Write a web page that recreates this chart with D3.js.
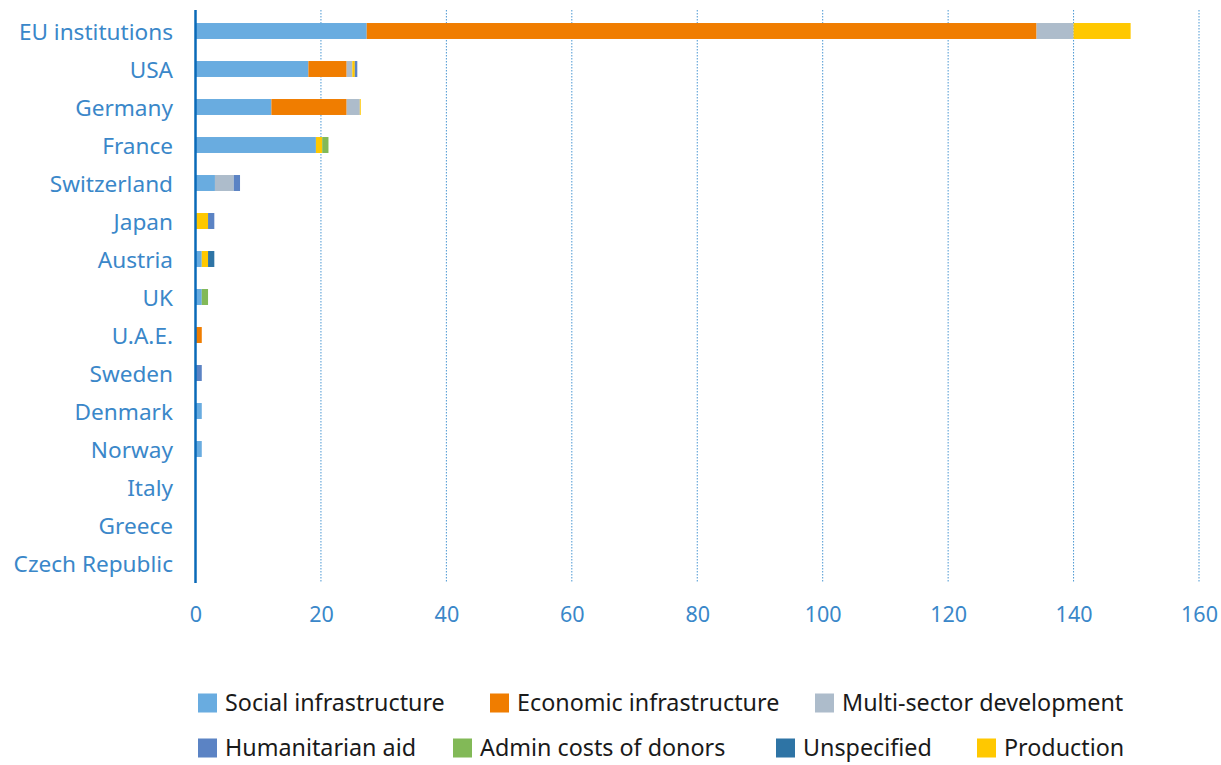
<!DOCTYPE html>
<html><head><meta charset="utf-8">
<script src="https://cdn.jsdelivr.net/npm/d3@7"></script>
<style>body{margin:0;background:#fff}svg{display:block}</style>
</head><body>
<svg id="chart" width="1221" height="765"></svg>
<script>
const categories = ["EU institutions","USA","Germany","France","Switzerland","Japan","Austria","UK","U.A.E.","Sweden","Denmark","Norway","Italy","Greece","Czech Republic"];
const seriesNames = ["Social infrastructure","Economic infrastructure","Multi-sector development","Humanitarian aid","Admin costs of donors","Unspecified","Production"];
const seriesColors = ["#69ace0","#f07d00","#adbccb","#5b83c4","#82b957","#2e74a5","#ffc800"];
const stackOrder = ["Social infrastructure","Economic infrastructure","Multi-sector development","Production","Humanitarian aid","Admin costs of donors","Unspecified"];
const social        = [27.3, 18.0, 12.1, 19.2, 3.1, 0,   1.0, 1.0, 0,   0,   1.0, 1.0, 0, 0, 0];
const economic      = [106.8, 6.1, 12.0, 0,   0,   0,   0,   0,   1.0, 0,   0,   0,   0, 0, 0];
const multisector   = [5.9,  0.9,  2.1,  0,   3.0, 0,   0,   0,   0,   0,   0,   0,   0, 0, 0];
const humanitarian  = [0,    0.4,  0,    0,   1.0, 1.0, 0,   0,   0,   1.0, 0,   0,   0, 0, 0];
const admin         = [0,    0,    0,    1.0, 0,   0,   0,   1.0, 0,   0,   0,   0,   0, 0, 0];
const unspecified   = [0,    0,    0,    0,   0,   0,   1.0, 0,   0,   0,   0,   0,   0, 0, 0];
const production    = [9.1,  0.4,  0.15, 1.0, 0,   2.0, 1.0, 0,   0,   0,   0,   0,   0, 0, 0];
const xTicks = [0,20,40,60,80,100,120,140,160];

const valuesByName = {
  "Social infrastructure": social,
  "Economic infrastructure": economic,
  "Multi-sector development": multisector,
  "Humanitarian aid": humanitarian,
  "Admin costs of donors": admin,
  "Unspecified": unspecified,
  "Production": production
};
const rows = categories.map((c,i)=>{
  const r = {cat:c};
  seriesNames.forEach(s=>r[s]=valuesByName[s][i]);
  return r;
});
const color = d3.scaleOrdinal(seriesNames, seriesColors);

const svg = d3.select("#chart");
const font = "'Noto Sans', 'Open Sans', sans-serif";
const x = d3.scaleLinear().domain([0,160]).range([195.5,1199]);
const y = d3.scaleBand().domain(categories).range([12,582]).paddingInner(0.58).paddingOuter(0.29);

// gridlines
svg.append("g").selectAll("line").data(xTicks.filter(t=>t>0)).join("line")
  .attr("x1",d=>x(d)).attr("x2",d=>x(d)).attr("y1",10).attr("y2",583)
  .attr("stroke","#4a97d2").attr("stroke-width",1).attr("stroke-dasharray","1.5,1.5");

const stack = d3.stack().keys(stackOrder)(rows);
svg.append("g").selectAll("g").data(stack).join("g")
  .attr("fill",d=>color(d.key))
  .selectAll("rect").data(d=>d).join("rect")
  .attr("x",d=>x(d[0])).attr("width",d=>Math.max(0,x(d[1])-x(d[0])))
  .attr("y",d=>y(d.data.cat)).attr("height",y.bandwidth());

// axis line
svg.append("line").attr("x1",195.5).attr("x2",195.5).attr("y1",10).attr("y2",583)
  .attr("stroke","#0a6ab8").attr("stroke-width",2.5);

// y labels
const yAxis = d3.axisLeft(y).tickSize(0).tickPadding(22);
const ya = svg.append("g").attr("transform","translate(195,0)").call(yAxis);
ya.select(".domain").remove();
ya.selectAll("text").attr("font-family",font).attr("font-size",22.6).attr("fill","#3a87c9").attr("dy","0.4em");

// x labels
const xAxis = d3.axisBottom(x).tickValues(xTicks).tickSize(0).tickPadding(0);
const xa = svg.append("g").attr("transform","translate(0,607)").call(xAxis);
xa.select(".domain").remove();
xa.selectAll("text").attr("font-family",font).attr("font-size",21.5).attr("fill","#3a87c9");

// legend
const legendItems = [
  {name:"Social infrastructure", x:198, y:703},
  {name:"Economic infrastructure", x:490, y:703},
  {name:"Multi-sector development", x:815, y:703},
  {name:"Humanitarian aid", x:198, y:748},
  {name:"Admin costs of donors", x:453, y:748},
  {name:"Unspecified", x:776, y:748},
  {name:"Production", x:977, y:748}
];
const lg = svg.append("g").selectAll("g").data(legendItems).join("g")
  .attr("transform",d=>`translate(${d.x},${d.y})`);
lg.append("rect").attr("x",0).attr("y",-9.5).attr("width",19).attr("height",19).attr("fill",d=>color(d.name));
lg.append("text").attr("x",27).attr("y",0).attr("dy","0.36em").text(d=>d.name)
  .attr("font-family",font).attr("font-size",23.3).attr("fill","#1a1a1a");
</script>
</body></html>
